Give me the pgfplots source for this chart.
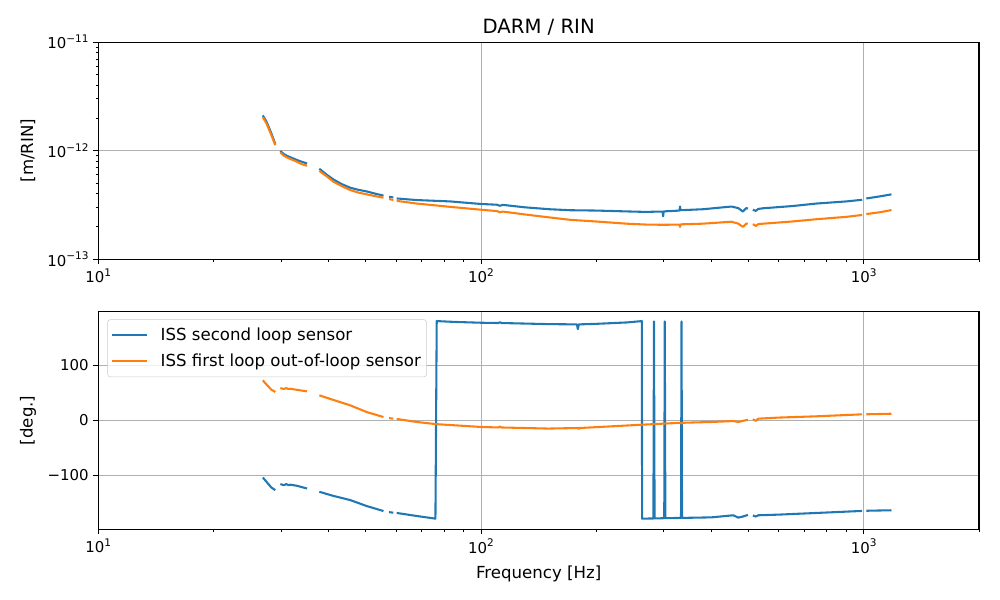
\documentclass[border=0pt]{standalone}
\usepackage{fontspec}
\setmainfont{DejaVu Sans}
\usepackage{pgfplots}
\usepackage{pgfplotstable}
\pgfplotsset{compat=1.18}
\definecolor{c0}{HTML}{1F77B4}
\definecolor{c1}{HTML}{FF7F0E}
\definecolor{gridc}{HTML}{B0B0B0}
\newcommand\sps[1]{\raisebox{0.42em}{\fontsize{7.6}{8}\selectfont #1}}
\newcommand\tickfont{\fontsize{10.8}{12}\selectfont}
\newcommand\labfont{\fontsize{12}{14}\selectfont}

\pgfplotstableread{
f v
26.9 2.11e-12
27.5 1.85e-12
28.3 1.45e-12
29.0 1.15e-12
nan nan
29.9 9.9e-13
30.5 9.3e-13
31.2 8.9e-13
31.7 8.7e-13
33.0 8.2e-13
34.0 7.9e-13
35.1 7.6e-13
nan nan
37.8 6.8e-13
39.5 6.0e-13
41.2 5.4e-13
43.3 4.9e-13
45.5 4.55e-13
47.8 4.35e-13
50.3 4.2e-13
53.0 4.0e-13
55.6 3.85e-13
nan nan
57.5 3.75e-13
59.0 3.7e-13
nan nan
60.2 3.62e-13
67.9 3.50e-13
83 3.40e-13
100 3.22e-13
110 3.17e-13
112 3.10e-13
114 3.16e-13
130 3.0e-13
151 2.88e-13
171 2.82e-13
200 2.80e-13
240 2.75e-13
270 2.72e-13
290 2.74e-13
298 2.74e-13
299 2.48e-13
300 2.75e-13
330 2.80e-13
331 3.05e-13
332 2.82e-13
380 2.88e-13
451 3.05e-13
470 2.95e-13
483 2.74e-13
493 2.95e-13
498 2.92e-13
nan nan
513 2.85e-13
522 2.78e-13
530 2.90e-13
546 2.94e-13
650 3.08e-13
752 3.25e-13
900 3.40e-13
990 3.52e-13
nan nan
1015 3.62e-13
1100 3.78e-13
1181 3.95e-13
}\magblue

\pgfplotstableread{
f v
26.9 2.03e-12
27.5 1.78e-12
28.3 1.40e-12
29.0 1.12e-12
nan nan
29.9 9.6e-13
30.5 9.0e-13
31.2 8.6e-13
31.7 8.4e-13
33.0 7.9e-13
34.0 7.5e-13
35.1 7.25e-13
nan nan
37.8 6.5e-13
39.5 5.8e-13
41.2 5.15e-13
43.3 4.7e-13
45.5 4.33e-13
47.8 4.1e-13
50.3 3.95e-13
53.0 3.8e-13
55.6 3.68e-13
nan nan
57.5 3.58e-13
59.0 3.5e-13
nan nan
60.2 3.44e-13
67.9 3.25e-13
83 3.03e-13
100 2.85e-13
110 2.77e-13
112 2.70e-13
114 2.74e-13
130 2.58e-13
151 2.42e-13
171 2.30e-13
200 2.22e-13
240 2.12e-13
270 2.08e-13
300 2.07e-13
330 2.08e-13
331 1.98e-13
332 2.09e-13
380 2.12e-13
451 2.21e-13
470 2.12e-13
483 1.98e-13
493 2.12e-13
498 2.12e-13
nan nan
513 2.10e-13
522 2.02e-13
530 2.10e-13
546 2.12e-13
650 2.22e-13
752 2.33e-13
900 2.45e-13
990 2.55e-13
nan nan
1015 2.60e-13
1100 2.70e-13
1181 2.83e-13
}\magorange

\pgfplotstableread{
f p
26.9 -104
27.6 -113
28.3 -122
29.0 -127
nan nan
29.9 -116
30.5 -118
31.0 -116
31.4 -118
31.7 -117
33.0 -119
35.1 -124
nan nan
37.8 -130
41.2 -137.6
45.5 -145
50.3 -156
55.6 -165
nan nan
57.5 -167
59.0 -168
nan nan
60.2 -168.5
67.9 -174
76.0 -178.8
76.6 180.5
85 179
100 177.5
111 177
112 178.5
113 177
150 175
178 174.5
179 166
180 174.5
200 175.5
240 178
263 180.5
263.5 -178.8
282 -178.5
283 180
284 -178.5
301 -178
302 180
303 -178
333 -177.5
334 180
335 -177.5
400 -176.5
456 -172.7
470 -177
483 -175
498 -172
nan nan
513 -173
522 -175
530 -172.7
600 -171.5
752 -168.5
990 -164.8
nan nan
1015 -164.5
1100 -164
1181 -163.6
}\phblue

\pgfplotstableread{
f p
26.9 72.7
27.6 64
28.3 56
29.0 51.5
nan nan
29.9 58.7
30.5 57
31.0 58.5
31.4 57
31.7 57.5
33.0 55.5
35.1 52.7
nan nan
37.8 45.5
41.2 36.9
45.5 27.3
50.3 15
55.6 6
nan nan
57.5 4
59.0 3
nan nan
60.2 2.5
67.9 -3
76.6 -7
100 -12.1
111 -13
112 -11.5
113 -13
150 -15
179 -14
180 -15.5
181 -14
263 -8
300 -6
333 -4.5
334 -6
335 -4.5
400 -3
456 -1.3
470 -3
483 -1
498 1
nan nan
513 2
522 -1
530 3
600 5
752 7.3
990 10.9
nan nan
1015 11
1100 11.5
1181 12
}\phorange

\pgfplotsset{mystyle/.style={
  scale only axis, width=636.5pt, xmin=10, xmax=2000,
  xtick={10,100,1000}, xticklabels={10\sps{1},10\sps{2},10\sps{3}},
  minor xtick={20,30,40,50,60,70,80,90,200,300,400,500,600,700,800,900,2000},
  tick align=outside, xtick pos=bottom, ytick pos=left,
  major tick length=3.5pt, minor tick length=2pt,
  major tick style={black, line width=0.8pt},
  minor tick style={black, line width=0.6pt},
  axis line style={line width=0.8pt},
  grid=major, major grid style={gridc, line width=0.8pt},
  tick label style={font=\tickfont},
  label style={font=\labfont},
  ylabel style={at={(axis description cs:-0.0798,0.5)}, anchor=center},
  unbounded coords=jump,
  every axis plot/.append style={line width=1.5pt, line join=round},
}}

\begin{document}
\begin{tikzpicture}
\useasboundingbox (0,0) rectangle (722.7pt,433.62pt);
\begin{axis}[xmode=log, ymode=log, mystyle,
  at={(71.04pt,246.4pt)}, anchor=south west, height=156.8pt,
  ymin=1e-13, ymax=1e-11,
  ytick={1e-13,1e-12,1e-11},
  minor ytick={2e-13,3e-13,4e-13,5e-13,6e-13,7e-13,8e-13,9e-13,2e-12,3e-12,4e-12,5e-12,6e-12,7e-12,8e-12,9e-12},
  yticklabels={10\sps{−13},10\sps{−12},10\sps{−11}},
  ylabel={[m/RIN]},
  title={DARM / RIN},
  title style={font=\fontsize{14.2}{16}\selectfont, at={(axis description cs:0.5,1)}, anchor=base, yshift=0.5pt},
]
\addplot[c0] table[x=f,y=v] {\magblue};
\addplot[c1] table[x=f,y=v] {\magorange};
\end{axis}
\begin{axis}[xmode=log, mystyle,
  at={(71.04pt,51.1pt)}, anchor=south west, height=157.5pt,
  ymin=-198.2, ymax=198.2,
  ytick={-100,0,100},
  yticklabels={−100,0,100},
  ylabel={[deg.]},
  xlabel={Frequency [Hz]},
  xlabel style={at={(axis description cs:0.5,0)}, anchor=base, yshift=-35.4pt},
  legend cell align=left,
  legend image code/.code={\draw[#1] (0pt,0pt) -- (25.8pt,0pt);},
  legend style={at={(axis description cs:0,1)}, anchor=north west,
    xshift=6.5pt, yshift=-5.8pt, draw=black!20, rounded corners=2pt,
    fill=white, fill opacity=0.8, text opacity=1, draw opacity=1,
    font=\labfont, inner xsep=2.2pt, inner ysep=4pt, row sep=4.1pt,
    column sep=6.9pt},
]
\addplot[c0] table[x=f,y=p] {\phblue};
\addlegendentry{ISS second loop sensor}
\addplot[c1] table[x=f,y=p] {\phorange};
\addlegendentry{ISS first loop out-of-loop sensor}
\end{axis}
\end{tikzpicture}
\end{document}
